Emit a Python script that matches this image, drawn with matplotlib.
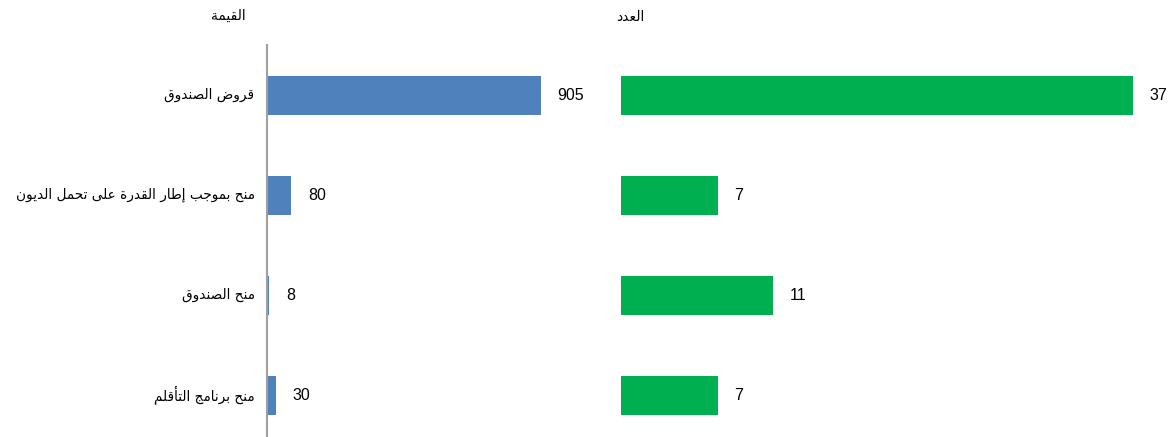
import numpy as np
import matplotlib
matplotlib.use('Agg')
from matplotlib import pyplot as plt

categories = ['قروض الصندوق',
              'منح بموجب إطار القدرة على تحمل الديون',
              'منح الصندوق',
              'منح برنامج التأقلم']
values_amount = [905, 80, 8, 30]
values_count = [37, 7, 11, 7]
title_amount = 'القيمة'
title_count = 'العدد'

# minimal arabic shaping: (isolated, final, initial, medial); 2-tuple = joins right only
FORMS = {
    'ا': (0xFE8D, 0xFE8E), 'أ': (0xFE83, 0xFE84), 'إ': (0xFE87, 0xFE88),
    'آ': (0xFE81, 0xFE82), 'ب': (0xFE8F, 0xFE90, 0xFE91, 0xFE92),
    'ة': (0xFE93, 0xFE94), 'ت': (0xFE95, 0xFE96, 0xFE97, 0xFE98),
    'ج': (0xFE9D, 0xFE9E, 0xFE9F, 0xFEA0), 'ح': (0xFEA1, 0xFEA2, 0xFEA3, 0xFEA4),
    'د': (0xFEA9, 0xFEAA), 'ر': (0xFEAD, 0xFEAE),
    'ص': (0xFEB9, 0xFEBA, 0xFEBB, 0xFEBC), 'ض': (0xFEBD, 0xFEBE, 0xFEBF, 0xFEC0),
    'ط': (0xFEC1, 0xFEC2, 0xFEC3, 0xFEC4), 'ع': (0xFEC9, 0xFECA, 0xFECB, 0xFECC),
    'ق': (0xFED5, 0xFED6, 0xFED7, 0xFED8), 'ل': (0xFEDD, 0xFEDE, 0xFEDF, 0xFEE0),
    'م': (0xFEE1, 0xFEE2, 0xFEE3, 0xFEE4), 'ن': (0xFEE5, 0xFEE6, 0xFEE7, 0xFEE8),
    'و': (0xFEED, 0xFEEE), 'ى': (0xFEEF, 0xFEF0),
    'ي': (0xFEF1, 0xFEF2, 0xFEF3, 0xFEF4),
}
LAM_ALEF = {'ا': (0xFEFB, 0xFEFC), 'أ': (0xFEF7, 0xFEF8),
            'إ': (0xFEF9, 0xFEFA), 'آ': (0xFEF5, 0xFEF6)}


def shape(text):
    chars = list(text)
    out = []
    i = 0
    while i < len(chars):
        c = chars[i]
        if c not in FORMS:
            out.append(c)
            i += 1
            continue
        prev = chars[i - 1] if i > 0 else None
        joins_prev = prev in FORMS and len(FORMS[prev]) == 4
        if c == 'ل' and i + 1 < len(chars) and chars[i + 1] in LAM_ALEF:
            f = LAM_ALEF[chars[i + 1]]
            out.append(chr(f[1] if joins_prev else f[0]))
            i += 2
            continue
        nxt = chars[i + 1] if i + 1 < len(chars) else None
        joins_next = len(FORMS[c]) == 4 and nxt in FORMS
        f = FORMS[c]
        if joins_prev and joins_next:
            g = f[3]
        elif joins_prev:
            g = f[1]
        elif joins_next:
            g = f[2]
        else:
            g = f[0]
        out.append(chr(g))
        i += 1
    return ''.join(out)[::-1]


W, H = 1173, 437
fig = plt.figure(figsize=(W / 100, H / 100), dpi=100)

y = np.arange(len(categories))
ar_font = ['DejaVu Sans']
num_font = ['Liberation Sans', 'DejaVu Sans']

ax1 = fig.add_axes([267 / W, 0, 330 / W, 392 / H])
ax1.barh(y, values_amount, height=0.39, color='#4F81BD')
ax1.set_xlim(0, 330 / 0.3028)
ax1.set_ylim(3.42, -0.5)
for s in ['top', 'right', 'bottom']:
    ax1.spines[s].set_visible(False)
ax1.spines['left'].set_color('#A0A0A0')
ax1.spines['left'].set_linewidth(1.5)
ax1.set_xticks([])
ax1.set_yticks([])
for yi, v in zip(y, values_amount):
    ax1.annotate(str(v), (v, yi), xytext=(12, 0), textcoords='offset points',
                 va='center', ha='left', fontsize=11.5, family=num_font)
for yi, c in zip(y, categories):
    ax1.annotate(shape(c), (0, yi), xytext=(-9, 0), textcoords='offset points',
                 va='center', ha='right', fontsize=9.8, family=ar_font)

ax2 = fig.add_axes([621 / W, 0, 540 / W, 392 / H])
ax2.barh(y, values_count, height=0.39, color='#00B050')
ax2.set_xlim(0, 540 / 13.84)
ax2.set_ylim(3.42, -0.5)
for s in ax2.spines.values():
    s.set_visible(False)
ax2.set_xticks([])
ax2.set_yticks([])
for yi, v in zip(y, values_count):
    ax2.annotate(str(v), (v, yi), xytext=(12, 0), textcoords='offset points',
                 va='center', ha='left', fontsize=11.5, family=num_font)

fig.text(228 / W, 1 - 16 / H, shape(title_amount), ha='center', va='center',
         fontsize=10, family=ar_font)
fig.text(630 / W, 1 - 17 / H, shape(title_count), ha='center', va='center',
         fontsize=10, family=ar_font)

fig.savefig('out.png', dpi=100)
